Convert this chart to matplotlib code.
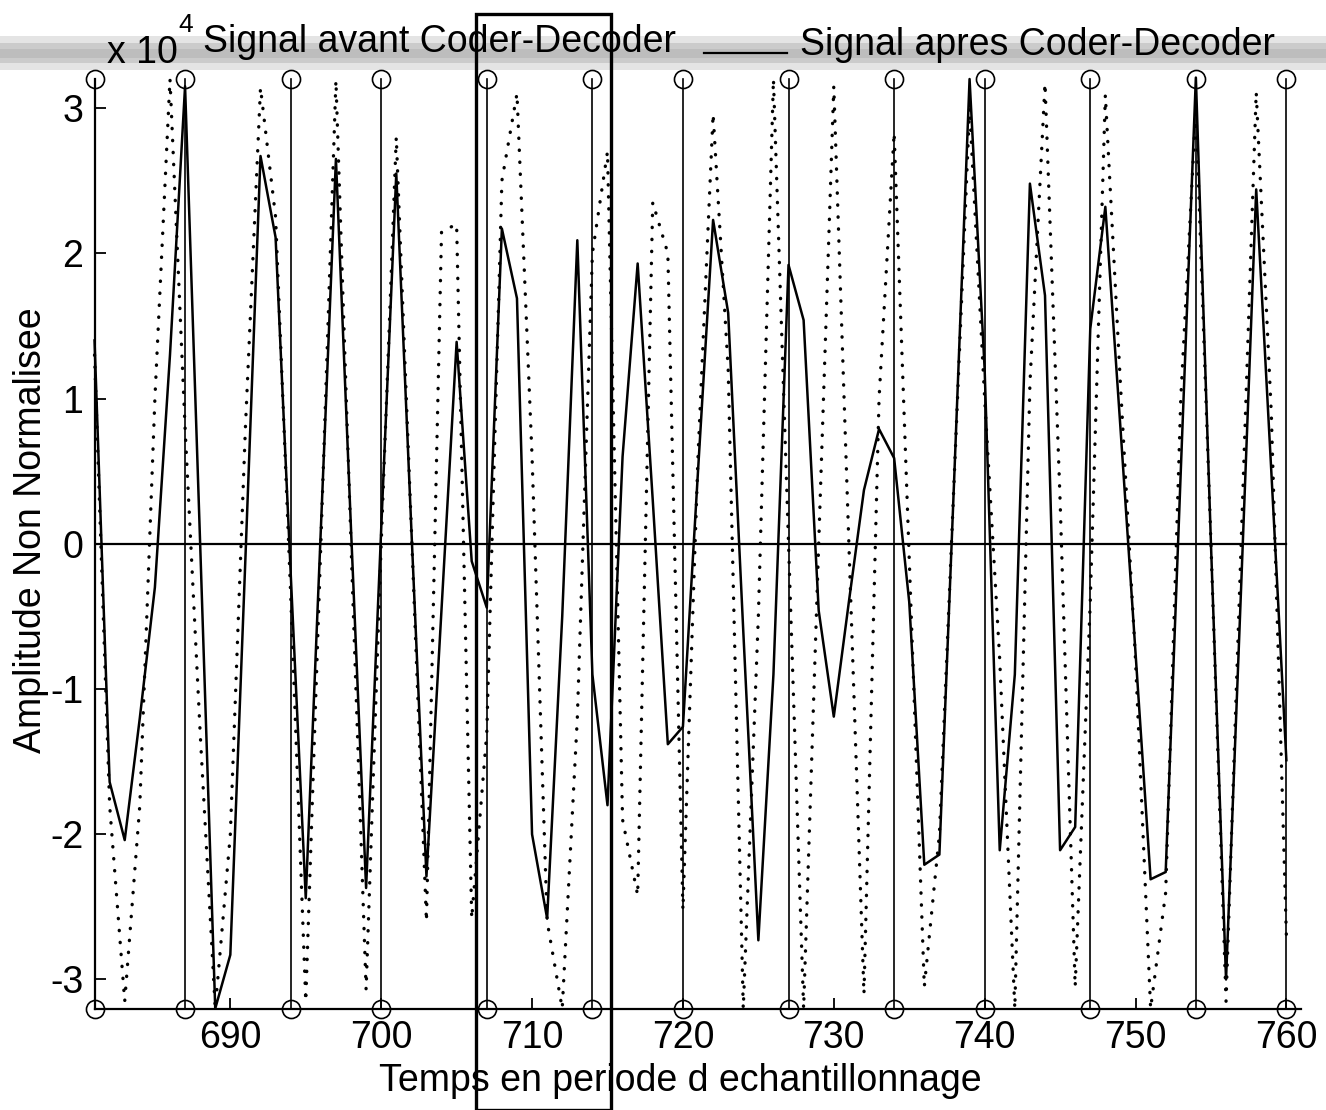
import numpy as np
import matplotlib
matplotlib.use("Agg")
import matplotlib.pyplot as plt
from matplotlib.patches import Rectangle
from matplotlib.lines import Line2D

plt.rcParams["font.family"] = ["Liberation Sans", "DejaVu Sans"]
plt.rcParams["axes.unicode_minus"] = False

# sample index (temps en periode d'echantillonnage)
samples = np.arange(681, 761)

# amplitudes, in units of 10^4
avant = [
    1.3, -1.8, -3.15, -1.8, 1.0, 3.2, 0.8, -1.3, -3.2, -2.0,
    0.8, 3.14, 2.25, -0.35, -3.15, 0.0, 3.19, 0.0, -3.07, 0.0,
    2.8, 0.1, -2.6, 2.15, 2.2, -2.58, -1.3, 2.5, 3.1, 0.6,
    -2.6, -3.2, -1.2, 2.0, 2.7, -1.9, -2.42, 2.35, 2.0, -2.52,
    0.6, 2.96, 1.2, -3.2, -0.5, 3.2, 0.0, -3.2, 0.0, 3.15,
    0.0, -3.1, 1.0, 2.83, -0.1, -3.05, -2.0, 0.5, 3.0, 1.0,
    -0.8, -3.2, 1.1, 3.17, 0.3, -3.05, -0.4, 3.09, 1.1, -0.8,
    -3.2, -2.4, 1.0, 3.0, 0.0, -3.15, 0.0, 3.11, 0.9, -2.7,
]
apres = [
    1.4, -1.64, -2.04, -1.2, -0.3, 1.3, 3.15, 0.0, -3.2, -2.83,
    -0.1, 2.67, 2.11, -0.2, -2.44, 0.1, 2.65, 0.1, -2.37, 0.1,
    2.55, 0.1, -2.29, -0.45, 1.39, -0.12, -0.44, 2.17, 1.69, -2.0,
    -2.58, -0.5, 2.09, -0.9, -1.8, 0.6, 1.93, 0.3, -1.38, -1.26,
    0.5, 2.23, 1.59, -0.6, -2.73, -0.9, 1.92, 1.54, -0.46, -1.19,
    -0.4, 0.37, 0.79, 0.59, -0.4, -2.21, -2.14, 0.5, 3.2, 1.2,
    -2.11, -0.9, 2.48, 1.71, -2.11, -1.95, 1.48, 2.32, 0.8, -0.75,
    -2.31, -2.26, 0.5, 3.21, 0.0, -3.0, -0.3, 2.44, 0.5, -1.49,
]

# frame / pitch marks drawn as full-height stems
marks = [681, 687, 694, 700, 707, 714, 720, 727, 734, 740, 747, 754, 760]
mark_lo, mark_hi = -3.2, 3.2

x_ticks = [690, 700, 710, 720, 730, 740, 750, 760]
y_ticks = [-3, -2, -1, 0, 1, 2, 3]

# hand-drawn box around the frame boundary
box_x = (706.3, 715.2)
box_y = (-3.9, 3.65)

FS = 27

fig = plt.figure(figsize=(13.26, 11.10), dpi=100)
fig.patch.set_facecolor("white")

# grey scan band across the top
fig.add_artist(Rectangle((0, 1 - 70 / 1110), 1, 34 / 1110, transform=fig.transFigure,
                         facecolor="#e4e4e4", edgecolor="none", zorder=0))
fig.add_artist(Rectangle((0, 1 - 63 / 1110), 1, 20 / 1110, transform=fig.transFigure,
                         facecolor="#cbcbcb", edgecolor="none", zorder=0))
fig.add_artist(Rectangle((0, 1 - 58 / 1110), 1, 9 / 1110, transform=fig.transFigure,
                         facecolor="#bdbdbd", edgecolor="none", zorder=0))

ax = fig.add_axes([0.0713, 0.0914, 0.9102, 0.8374])
ax.patch.set_alpha(0)

ax.plot(samples, avant, color="k", lw=2.4, linestyle=(0, (0.1, 3.5)),
        dash_capstyle="round", clip_on=False)
ax.plot(samples, apres, color="k", lw=1.8, clip_on=False)

for m in marks:
    ax.plot([m, m], [mark_lo, mark_hi], color="k", lw=1.2, marker="o", ms=13,
            mfc="none", mec="k", mew=1.2, clip_on=False)

ax.plot([samples[0], samples[-1]], [0, 0], color="k", lw=1.6)

ax.add_patch(Rectangle((box_x[0], box_y[0]), box_x[1] - box_x[0], box_y[1] - box_y[0],
                       fill=False, edgecolor="k", lw=2.4, clip_on=False, zorder=5))

ax.set_xlim(681, 761)
ax.set_ylim(-3.2, 3.2)
ax.set_xticks(x_ticks)
ax.set_yticks(y_ticks)
ax.set_xticklabels([str(v) for v in x_ticks])
ax.set_yticklabels([str(v) for v in y_ticks])
ax.tick_params(direction="in", length=8, width=1.3, pad=8, labelsize=FS)
for side in ["top", "right"]:
    ax.spines[side].set_visible(False)
for side in ["left", "bottom"]:
    ax.spines[side].set_linewidth(1.6)

ax.set_xlabel("Temps en periode d echantillonnage", fontsize=FS)
ax.xaxis.set_label_coords(0.485, -0.078)
ax.set_ylabel("Amplitude Non Normalisee", fontsize=FS)
ax.yaxis.set_label_coords(-0.053, 0.515)
ax.xaxis.label.set_va("center")
ax.yaxis.label.set_va("center")

# exponent and legend texts along the top
fig.text(107 / 1326, 1 - 63 / 1110, "x 10", fontsize=FS, va="baseline", ha="left")
fig.text(178 / 1326, 1 - 32 / 1110, "4", fontsize=19, va="baseline", ha="left")
fig.text(203 / 1326, 1 - 52 / 1110, "Signal avant Coder-Decoder", fontsize=FS,
         va="baseline", ha="left")
fig.add_artist(Line2D([704 / 1326, 787 / 1326], [1 - 53 / 1110, 1 - 53 / 1110],
                      transform=fig.transFigure, color="k", lw=1.6))
fig.text(800 / 1326, 1 - 55 / 1110, "Signal apres Coder-Decoder", fontsize=FS,
         va="baseline", ha="left")

fig.savefig("out.png", dpi=100)
